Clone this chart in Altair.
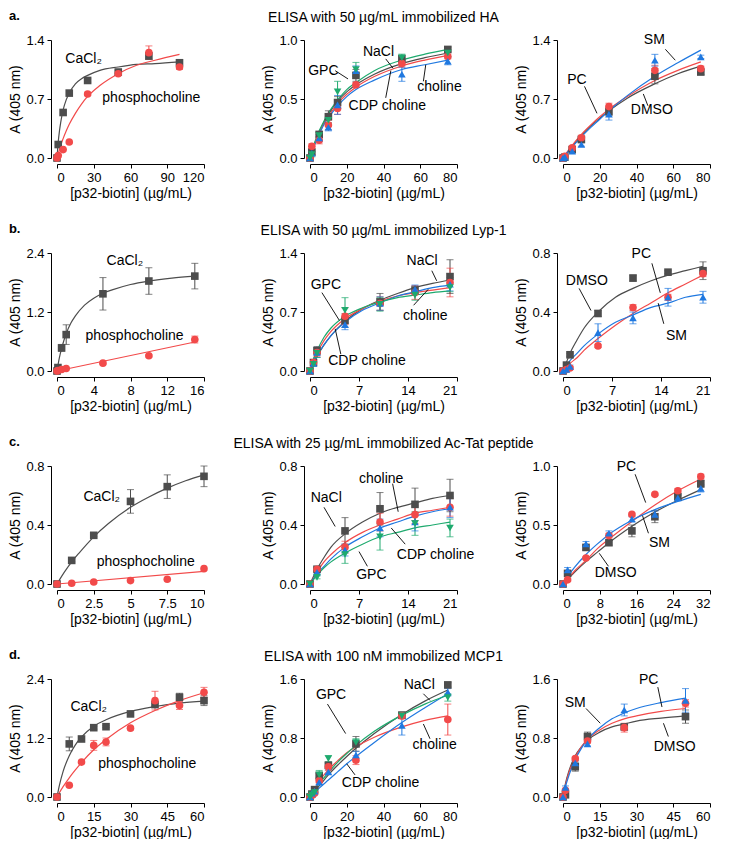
import altair as alt
import pandas as pd

FONT = "Liberation Sans"
COLORS = {"gray": "#4d4d4d", "red": "#f24a4a", "blue": "#1f78e0", "green": "#1eaa6e"}
SHAPES = {"gray": "square", "red": "circle", "blue": "triangle-up", "green": "triangle-down"}
ORDER = ["gray", "red", "blue", "green"]
XTITLE = "[p32-biotin] (µg/mL)"
YTITLE = "A (405 nm)"

ROW_TITLES = [
    "ELISA with 50 µg/mL immobilized HA",
    "ELISA with 50 µg/mL immobilized Lyp-1",
    "ELISA with 25 µg/mL immobilized Ac-Tat peptide",
    "ELISA with 100 nM immobilized MCP1",
]
ROW_LETTERS = ["a.", "b.", "c.", "d."]

# ---------------- Row a (HA) ----------------
A1_X = [0, 1, 5, 10, 25, 50, 75, 100]
A1_GRAY = [0.0, 0.16, 0.54, 0.77, 0.92, 1.02, 1.21, 1.13]
A1_GRAY_ERR = [0, 0, 0, 0, 0.02, 0.02, 0.04, 0.02]
A1_RED = [0.0, 0.03, 0.10, 0.19, 0.76, 1.00, 1.25, 1.08]
A1_RED_ERR = [0, 0, 0, 0, 0.02, 0.02, 0.08, 0.03]
A1_FIT_X = [0, 1, 2, 3, 5, 7.5, 10, 15, 20, 25, 35, 50, 65, 80, 100]
A1_GRAY_FIT = [0, 0.19, 0.32, 0.42, 0.57, 0.69, 0.77, 0.88, 0.94, 0.98, 1.04, 1.08, 1.11, 1.12, 1.14]
A1_RED_FIT = [0, 0.05, 0.10, 0.15, 0.23, 0.32, 0.40, 0.53, 0.64, 0.73, 0.86, 1.00, 1.10, 1.16, 1.23]
A1_LABELS = [("CaCl₂", 6.8, 1.17), ("phosphocholine", 37, 0.71)]
A1_LEADERS = []

A2_X = [0, 1, 5, 10, 15, 25, 50, 75]
A2_GRAY = [0.0, 0.05, 0.20, 0.35, 0.47, 0.70, 0.84, 0.92]
A2_GRAY_ERR = [0, 0.02, 0.02, 0.05, 0.05, 0.05, 0.03, 0.02]
A2_RED = [0.0, 0.10, 0.15, 0.28, 0.42, 0.62, 0.80, 0.86]
A2_RED_ERR = [0, 0.02, 0.03, 0.04, 0.05, 0.02, 0.03, 0.02]
A2_BLUE = [0.0, 0.04, 0.17, 0.26, 0.45, 0.74, 0.71, 0.82]
A2_BLUE_ERR = [0, 0.02, 0.03, 0.03, 0.08, 0.04, 0.06, 0.03]
A2_GREEN = [0.0, 0.03, 0.19, 0.32, 0.56, 0.75, 0.85, 0.89]
A2_GREEN_ERR = [0, 0.02, 0.03, 0.03, 0.09, 0.06, 0.03, 0.03]
A2_FIT_X = [0, 1, 2.5, 5, 7.5, 10, 15, 20, 25, 35, 50, 62.5, 75]
A2_GRAY_FIT = [0, 0.05, 0.12, 0.22, 0.30, 0.37, 0.48, 0.56, 0.62, 0.71, 0.80, 0.85, 0.89]
A2_RED_FIT = [0, 0.05, 0.12, 0.21, 0.29, 0.35, 0.46, 0.54, 0.60, 0.69, 0.78, 0.83, 0.87]
A2_BLUE_FIT = [0, 0.05, 0.11, 0.20, 0.28, 0.34, 0.44, 0.52, 0.58, 0.66, 0.75, 0.79, 0.83]
A2_GREEN_FIT = [0, 0.05, 0.13, 0.23, 0.31, 0.38, 0.49, 0.58, 0.64, 0.74, 0.83, 0.88, 0.92]
A2_LABELS = [("NaCl", 28.8, 0.90), ("GPC", -1, 0.74), ("choline", 58.4, 0.60), ("CDP choline", 21, 0.44)]
A2_LEADERS = [(41.2, 0.84, 45.2, 0.76), (13.7, 0.74, 20.7, 0.67), (63, 0.79, 61.7, 0.65), (44, 0.74, 41.2, 0.51)]

A3_X = [0, 1, 5, 10, 25, 50, 75]
A3_GRAY = [0.0, 0.01, 0.10, 0.22, 0.55, 0.97, 1.02]
A3_GRAY_ERR = [0, 0.01, 0.02, 0.03, 0.05, 0.09, 0.03]
A3_RED = [0.0, 0.02, 0.12, 0.24, 0.61, 1.04, 1.06]
A3_RED_ERR = [0, 0.01, 0.02, 0.03, 0.04, 0.06, 0.03]
A3_BLUE = [0.0, 0.01, 0.08, 0.16, 0.52, 1.16, 1.20]
A3_BLUE_ERR = [0, 0.01, 0.02, 0.02, 0.07, 0.07, 0.02]
A3_FIT_X = [0, 2.5, 5, 10, 15, 20, 25, 35, 50, 62.5, 75]
A3_GRAY_FIT = [0, 0.07, 0.14, 0.27, 0.38, 0.47, 0.56, 0.71, 0.88, 1.00, 1.09]
A3_RED_FIT = [0, 0.08, 0.15, 0.28, 0.39, 0.49, 0.58, 0.73, 0.92, 1.04, 1.14]
A3_BLUE_FIT = [0, 0.07, 0.13, 0.25, 0.36, 0.46, 0.56, 0.74, 0.97, 1.13, 1.28]
A3_LABELS = [("SM", 44, 1.40), ("PC", 2.3, 0.93), ("DMSO", 36.9, 0.57)]
A3_LEADERS = [(55.7, 1.29, 61.1, 1.16), (11.7, 0.85, 18.5, 0.53), (43.7, 0.76, 46.2, 0.62)]

# ---------------- Row b (Lyp-1) ----------------
B1_X = [0, 0.1, 0.5, 1, 5, 10, 15]
B1_GRAY = [0.0, 0.07, 0.47, 0.74, 1.57, 1.83, 1.93]
B1_GRAY_ERR = [0, 0.02, 0.07, 0.20, 0.33, 0.27, 0.26]
B1_RED = [0.0, 0.01, 0.03, 0.05, 0.16, 0.31, 0.64]
B1_RED_ERR = [0, 0, 0.01, 0.01, 0.02, 0.02, 0.07]
B1_GRAY_FIT_X = [0, 0.25, 0.5, 0.75, 1, 1.5, 2, 3, 4, 5, 6, 8, 10, 12.5, 15]
B1_GRAY_FIT = [0, 0.26, 0.46, 0.62, 0.76, 0.97, 1.12, 1.34, 1.48, 1.58, 1.65, 1.76, 1.83, 1.89, 1.93]
B1_RED_FIT_X = [0, 15]
B1_RED_FIT = [0, 0.59]
B1_LABELS = [("CaCl₂", 5.4, 2.23), ("phosphocholine", 3.1, 0.72)]
B1_LEADERS = []

B2_X = [0, 0.5, 1, 5, 10, 15, 20]
B2_GRAY = [0.0, 0.10, 0.24, 0.60, 0.82, 0.96, 1.12]
B2_GRAY_ERR = [0, 0.02, 0.05, 0.08, 0.10, 0.05, 0.20]
B2_RED = [0.0, 0.10, 0.22, 0.65, 0.80, 0.93, 1.05]
B2_RED_ERR = [0, 0.02, 0.05, 0.10, 0.08, 0.08, 0.17]
B2_BLUE = [0.0, 0.09, 0.22, 0.55, 0.80, 0.97, 1.03]
B2_BLUE_ERR = [0, 0.02, 0.06, 0.06, 0.08, 0.05, 0.08]
B2_GREEN = [0.0, 0.08, 0.21, 0.72, 0.79, 0.90, 0.99]
B2_GREEN_ERR = [0, 0.02, 0.05, 0.15, 0.08, 0.06, 0.05]
B2_FIT_X = [0, 0.5, 1, 2, 3, 5, 7.5, 10, 12.5, 15, 17.5, 20]
B2_GRAY_FIT = [0, 0.09, 0.17, 0.31, 0.42, 0.59, 0.74, 0.84, 0.92, 0.99, 1.04, 1.08]
B2_RED_FIT = [0, 0.11, 0.21, 0.36, 0.47, 0.62, 0.74, 0.83, 0.89, 0.93, 0.96, 0.99]
B2_BLUE_FIT = [0, 0.09, 0.18, 0.31, 0.42, 0.58, 0.72, 0.81, 0.89, 0.94, 0.99, 1.02]
B2_GREEN_FIT = [0, 0.14, 0.24, 0.40, 0.51, 0.65, 0.75, 0.82, 0.87, 0.90, 0.93, 0.95]
B2_LABELS = [("NaCl", 13.8, 1.30), ("GPC", 0.1, 1.02), ("choline", 13.3, 0.65), ("CDP choline", 2.6, 0.12)]
B2_LEADERS = [(17.4, 1.19, 18.1, 1.07), (1.7, 0.93, 4.2, 0.60), (14.8, 0.78, 16.9, 0.97), (4.4, 0.20, 3.6, 0.50)]

B3_X = [0, 0.5, 1, 5, 10, 15, 20]
B3_GRAY = [0.0, 0.04, 0.11, 0.39, 0.63, 0.67, 0.68]
B3_GRAY_ERR = [0, 0.01, 0.01, 0.02, 0.02, 0.01, 0.06]
B3_RED = [0.0, 0.01, 0.02, 0.17, 0.43, 0.50, 0.66]
B3_RED_ERR = [0, 0, 0.01, 0.01, 0.02, 0.02, 0.02]
B3_BLUE = [0.0, 0.01, 0.03, 0.26, 0.36, 0.50, 0.50]
B3_BLUE_ERR = [0, 0, 0.01, 0.06, 0.04, 0.06, 0.04]
B3_FIT_X = [0, 0.5, 1, 2, 3, 5, 7.5, 10, 12.5, 15, 17.5, 20]
B3_GRAY_FIT = [0, 0.06, 0.12, 0.21, 0.29, 0.40, 0.50, 0.56, 0.61, 0.65, 0.68, 0.71]
B3_RED_FIT = [0, 0.02, 0.05, 0.09, 0.14, 0.22, 0.31, 0.39, 0.46, 0.53, 0.59, 0.65]
B3_BLUE_FIT = [0, 0.04, 0.07, 0.12, 0.17, 0.25, 0.33, 0.38, 0.43, 0.46, 0.50, 0.52]
B3_LABELS = [("DMSO", 0.4, 0.61), ("PC", 9.8, 0.79), ("SM", 14.7, 0.24)]
B3_LEADERS = [(2.3, 0.56, 4.0, 0.41), (12.7, 0.73, 13.9, 0.53), (13.6, 0.46, 14.4, 0.32)]

# ---------------- Row c (Ac-Tat) ----------------
C1_X = [0, 1, 2.5, 5, 7.5, 10]
C1_GRAY = [0.0, 0.16, 0.33, 0.56, 0.66, 0.73]
C1_GRAY_ERR = [0, 0.01, 0.01, 0.08, 0.08, 0.07]
C1_RED = [0.0, 0.005, 0.014, 0.023, 0.032, 0.104]
C1_RED_ERR = [0, 0, 0, 0, 0, 0]
C1_GRAY_FIT_X = [0, 0.5, 1, 1.5, 2.5, 3.5, 5, 6.25, 7.5, 8.75, 10]
C1_GRAY_FIT = [0, 0.08, 0.15, 0.21, 0.32, 0.41, 0.52, 0.59, 0.65, 0.70, 0.74]
C1_RED_FIT_X = [0, 10]
C1_RED_FIT = [0, 0.085]
C1_LABELS = [("CaCl₂", 1.8, 0.59), ("phosphocholine", 2.7, 0.15)]
C1_LEADERS = []

C2_X = [0, 1, 5, 10, 15, 20]
C2_GRAY = [0.0, 0.10, 0.36, 0.51, 0.54, 0.60]
C2_GRAY_ERR = [0, 0.01, 0.09, 0.11, 0.11, 0.11]
C2_RED = [0.0, 0.10, 0.25, 0.42, 0.47, 0.52]
C2_RED_ERR = [0, 0.01, 0.04, 0.06, 0.06, 0.06]
C2_BLUE = [0.0, 0.08, 0.23, 0.38, 0.42, 0.52]
C2_BLUE_ERR = [0, 0.01, 0.04, 0.06, 0.06, 0.07]
C2_GREEN = [0.0, 0.045, 0.20, 0.32, 0.41, 0.38]
C2_GREEN_ERR = [0, 0.01, 0.06, 0.09, 0.08, 0.06]
C2_FIT_X = [0, 1, 2, 3, 5, 7.5, 10, 12.5, 15, 17.5, 20]
C2_GRAY_FIT = [0, 0.10, 0.18, 0.25, 0.34, 0.42, 0.48, 0.52, 0.55, 0.58, 0.60]
C2_RED_FIT = [0, 0.08, 0.15, 0.20, 0.28, 0.35, 0.40, 0.44, 0.48, 0.50, 0.52]
C2_BLUE_FIT = [0, 0.07, 0.12, 0.17, 0.25, 0.32, 0.38, 0.42, 0.46, 0.49, 0.51]
C2_GREEN_FIT = [0, 0.06, 0.11, 0.15, 0.21, 0.27, 0.32, 0.35, 0.38, 0.40, 0.42]
C2_LABELS = [("NaCl", 0.1, 0.58), ("choline", 7.0, 0.71), ("CDP choline", 12.4, 0.20), ("GPC", 6.6, 0.06)]
C2_LEADERS = [(2.0, 0.52, 3.6, 0.39), (11.8, 0.68, 12.6, 0.49), (11.6, 0.38, 13.6, 0.27), (7.0, 0.22, 8.2, 0.12)]

C3_X = [0, 1, 5, 10, 15, 20, 25, 30]
C3_GRAY = [0.0, 0.09, 0.31, 0.35, 0.45, 0.57, 0.74, 0.85]
C3_GRAY_ERR = [0, 0.01, 0.02, 0.02, 0.05, 0.05, 0.02, 0.03]
C3_RED = [0.0, 0.035, 0.22, 0.41, 0.59, 0.76, 0.79, 0.91]
C3_RED_ERR = [0, 0.01, 0.01, 0.02, 0.01, 0.01, 0.02, 0.02]
C3_BLUE = [0.0, 0.12, 0.34, 0.43, 0.55, 0.59, 0.73, 0.81]
C3_BLUE_ERR = [0, 0.02, 0.02, 0.02, 0.02, 0.03, 0.02, 0.03]
C3_FIT_X = [0, 1, 2.5, 5, 7.5, 10, 15, 20, 25, 30]
C3_GRAY_FIT = [0, 0.04, 0.10, 0.19, 0.27, 0.35, 0.49, 0.61, 0.71, 0.80]
C3_RED_FIT = [0, 0.04, 0.11, 0.20, 0.30, 0.38, 0.53, 0.67, 0.79, 0.89]
C3_BLUE_FIT = [0, 0.06, 0.14, 0.25, 0.34, 0.42, 0.54, 0.63, 0.70, 0.76]
C3_LABELS = [("PC", 11.7, 0.99), ("SM", 18.7, 0.35), ("DMSO", 6.9, 0.09)]
C3_LEADERS = [(15.7, 0.93, 18.0, 0.69), (17.3, 0.58, 18.6, 0.43), (7.9, 0.26, 9.9, 0.15)]

# ---------------- Row d (MCP1) ----------------
D1_X = [0, 5, 10, 15, 20, 30, 40, 50, 60]
D1_GRAY = [0.0, 1.08, 1.18, 1.41, 1.43, 1.69, 1.88, 2.03, 1.96]
D1_GRAY_ERR = [0, 0.14, 0.03, 0.03, 0.02, 0.05, 0.03, 0.08, 0.10]
D1_RED = [0.0, 0.24, 0.71, 1.05, 1.12, 1.40, 1.96, 1.86, 2.13]
D1_RED_ERR = [0, 0.02, 0.03, 0.10, 0.08, 0.03, 0.19, 0.08, 0.10]
D1_FIT_X = [0, 1, 2.5, 5, 7.5, 10, 15, 20, 30, 40, 50, 60]
D1_GRAY_FIT = [0, 0.24, 0.52, 0.84, 1.06, 1.22, 1.44, 1.57, 1.74, 1.84, 1.91, 1.95]
D1_RED_FIT = [0, 0.09, 0.21, 0.39, 0.55, 0.70, 0.96, 1.17, 1.51, 1.76, 1.96, 2.12]
D1_LABELS = [("CaCl₂", 5.5, 1.84), ("phosphocholine", 16.8, 0.68)]
D1_LEADERS = []

D2_X = [0, 1, 2.5, 5, 10, 25, 50, 75]
D2_GRAY = [0.0, 0.04, 0.10, 0.29, 0.43, 0.72, 1.11, 1.52]
D2_GRAY_ERR = [0, 0.01, 0.02, 0.03, 0.04, 0.10, 0.04, 0.03]
D2_RED = [0.0, 0.02, 0.05, 0.22, 0.41, 0.50, 1.10, 1.05]
D2_RED_ERR = [0, 0.01, 0.01, 0.03, 0.05, 0.06, 0.04, 0.21]
D2_BLUE = [0.0, 0.05, 0.08, 0.20, 0.34, 0.57, 0.97, 1.42]
D2_BLUE_ERR = [0, 0.01, 0.01, 0.03, 0.03, 0.05, 0.13, 0.05]
D2_GREEN = [0.0, 0.03, 0.06, 0.30, 0.52, 0.74, 1.10, 1.35]
D2_GREEN_ERR = [0, 0.01, 0.01, 0.06, 0.04, 0.05, 0.03, 0.05]
D2_FIT_X = [0, 2.5, 5, 10, 15, 20, 25, 35, 50, 62.5, 75]
D2_GRAY_FIT = [0, 0.08, 0.15, 0.30, 0.43, 0.55, 0.66, 0.86, 1.12, 1.30, 1.45]
D2_RED_FIT = [0, 0.11, 0.21, 0.37, 0.49, 0.60, 0.68, 0.81, 0.95, 1.04, 1.10]
D2_BLUE_FIT = [0, 0.06, 0.12, 0.23, 0.34, 0.45, 0.55, 0.74, 1.01, 1.21, 1.40]
D2_GREEN_FIT = [0, 0.09, 0.18, 0.33, 0.47, 0.59, 0.70, 0.89, 1.11, 1.26, 1.38]
D2_LABELS = [("NaCl", 51, 1.52), ("GPC", 3.2, 1.38), ("choline", 55.8, 0.71), ("CDP choline", 17.3, 0.19)]
D2_LEADERS = [(61.7, 1.40, 65.3, 1.31), (9.5, 1.26, 19.4, 0.86), (61.7, 0.99, 65.3, 0.79), (20.0, 0.45, 24.5, 0.30)]

D3_X = [0, 1, 5, 10, 25, 50]
D3_GRAY = [0.0, 0.03, 0.41, 0.82, 0.95, 1.09]
D3_GRAY_ERR = [0, 0.01, 0.06, 0.06, 0.03, 0.09]
D3_RED = [0.0, 0.09, 0.52, 0.76, 0.94, 1.27]
D3_RED_ERR = [0, 0.01, 0.02, 0.03, 0.06, 0.05]
D3_BLUE = [0.0, 0.13, 0.46, 0.72, 1.18, 1.31]
D3_BLUE_ERR = [0, 0.02, 0.03, 0.03, 0.08, 0.16]
D3_FIT_X = [0, 1, 2.5, 5, 7.5, 10, 15, 20, 25, 30, 40, 50]
D3_GRAY_FIT = [0, 0.18, 0.36, 0.56, 0.68, 0.77, 0.88, 0.95, 0.99, 1.03, 1.07, 1.10]
D3_RED_FIT = [0, 0.16, 0.34, 0.54, 0.68, 0.78, 0.91, 1.00, 1.06, 1.10, 1.16, 1.20]
D3_BLUE_FIT = [0, 0.14, 0.30, 0.51, 0.66, 0.78, 0.94, 1.06, 1.14, 1.20, 1.28, 1.34]
D3_LABELS = [("PC", 31, 1.58), ("SM", 0.7, 1.27), ("DMSO", 37, 0.68)]
D3_LEADERS = [(38.7, 1.49, 40.4, 1.22), (9.4, 1.20, 15.2, 1.00), (41.0, 1.00, 43.0, 0.82)]

# axis settings per panel: (x max, x ticks, y max, y ticks)
AXES = {
    "a1": (120, [0, 30, 60, 90, 120], 1.4, [0, 0.7, 1.4]),
    "a2": (80, [0, 20, 40, 60, 80], 1.0, [0, 0.5, 1.0]),
    "a3": (80, [0, 20, 40, 60, 80], 1.4, [0, 0.7, 1.4]),
    "b1": (16, [0, 4, 8, 12, 16], 2.4, [0, 1.2, 2.4]),
    "b2": (21, [0, 7, 14, 21], 1.4, [0, 0.7, 1.4]),
    "b3": (21, [0, 7, 14, 21], 0.8, [0, 0.4, 0.8]),
    "c1": (10, [0, 2.5, 5, 7.5, 10], 0.8, [0, 0.4, 0.8]),
    "c2": (21, [0, 7, 14, 21], 0.8, [0, 0.4, 0.8]),
    "c3": (32, [0, 8, 16, 24, 32], 1.0, [0, 0.5, 1.0]),
    "d1": (60, [0, 15, 30, 45, 60], 2.4, [0, 1.2, 2.4]),
    "d2": (80, [0, 20, 40, 60, 80], 1.6, [0, 0.8, 1.6]),
    "d3": (60, [0, 15, 30, 45, 60], 1.6, [0, 0.8, 1.6]),
}

PANELS = [
    ("a1", A1_X, {"gray": (A1_GRAY, A1_GRAY_ERR), "red": (A1_RED, A1_RED_ERR)},
     {"gray": (A1_FIT_X, A1_GRAY_FIT), "red": (A1_FIT_X, A1_RED_FIT)}, A1_LABELS, A1_LEADERS),
    ("a2", A2_X, {"gray": (A2_GRAY, A2_GRAY_ERR), "red": (A2_RED, A2_RED_ERR),
                  "blue": (A2_BLUE, A2_BLUE_ERR), "green": (A2_GREEN, A2_GREEN_ERR)},
     {"gray": (A2_FIT_X, A2_GRAY_FIT), "red": (A2_FIT_X, A2_RED_FIT),
      "blue": (A2_FIT_X, A2_BLUE_FIT), "green": (A2_FIT_X, A2_GREEN_FIT)}, A2_LABELS, A2_LEADERS),
    ("a3", A3_X, {"gray": (A3_GRAY, A3_GRAY_ERR), "red": (A3_RED, A3_RED_ERR), "blue": (A3_BLUE, A3_BLUE_ERR)},
     {"gray": (A3_FIT_X, A3_GRAY_FIT), "red": (A3_FIT_X, A3_RED_FIT), "blue": (A3_FIT_X, A3_BLUE_FIT)},
     A3_LABELS, A3_LEADERS),
    ("b1", B1_X, {"gray": (B1_GRAY, B1_GRAY_ERR), "red": (B1_RED, B1_RED_ERR)},
     {"gray": (B1_GRAY_FIT_X, B1_GRAY_FIT), "red": (B1_RED_FIT_X, B1_RED_FIT)}, B1_LABELS, B1_LEADERS),
    ("b2", B2_X, {"gray": (B2_GRAY, B2_GRAY_ERR), "red": (B2_RED, B2_RED_ERR),
                  "blue": (B2_BLUE, B2_BLUE_ERR), "green": (B2_GREEN, B2_GREEN_ERR)},
     {"gray": (B2_FIT_X, B2_GRAY_FIT), "red": (B2_FIT_X, B2_RED_FIT),
      "blue": (B2_FIT_X, B2_BLUE_FIT), "green": (B2_FIT_X, B2_GREEN_FIT)}, B2_LABELS, B2_LEADERS),
    ("b3", B3_X, {"gray": (B3_GRAY, B3_GRAY_ERR), "red": (B3_RED, B3_RED_ERR), "blue": (B3_BLUE, B3_BLUE_ERR)},
     {"gray": (B3_FIT_X, B3_GRAY_FIT), "red": (B3_FIT_X, B3_RED_FIT), "blue": (B3_FIT_X, B3_BLUE_FIT)},
     B3_LABELS, B3_LEADERS),
    ("c1", C1_X, {"gray": (C1_GRAY, C1_GRAY_ERR), "red": (C1_RED, C1_RED_ERR)},
     {"gray": (C1_GRAY_FIT_X, C1_GRAY_FIT), "red": (C1_RED_FIT_X, C1_RED_FIT)}, C1_LABELS, C1_LEADERS),
    ("c2", C2_X, {"gray": (C2_GRAY, C2_GRAY_ERR), "red": (C2_RED, C2_RED_ERR),
                  "blue": (C2_BLUE, C2_BLUE_ERR), "green": (C2_GREEN, C2_GREEN_ERR)},
     {"gray": (C2_FIT_X, C2_GRAY_FIT), "red": (C2_FIT_X, C2_RED_FIT),
      "blue": (C2_FIT_X, C2_BLUE_FIT), "green": (C2_FIT_X, C2_GREEN_FIT)}, C2_LABELS, C2_LEADERS),
    ("c3", C3_X, {"gray": (C3_GRAY, C3_GRAY_ERR), "red": (C3_RED, C3_RED_ERR), "blue": (C3_BLUE, C3_BLUE_ERR)},
     {"gray": (C3_FIT_X, C3_GRAY_FIT), "red": (C3_FIT_X, C3_RED_FIT), "blue": (C3_FIT_X, C3_BLUE_FIT)},
     C3_LABELS, C3_LEADERS),
    ("d1", D1_X, {"gray": (D1_GRAY, D1_GRAY_ERR), "red": (D1_RED, D1_RED_ERR)},
     {"gray": (D1_FIT_X, D1_GRAY_FIT), "red": (D1_FIT_X, D1_RED_FIT)}, D1_LABELS, D1_LEADERS),
    ("d2", D2_X, {"gray": (D2_GRAY, D2_GRAY_ERR), "red": (D2_RED, D2_RED_ERR),
                  "blue": (D2_BLUE, D2_BLUE_ERR), "green": (D2_GREEN, D2_GREEN_ERR)},
     {"gray": (D2_FIT_X, D2_GRAY_FIT), "red": (D2_FIT_X, D2_RED_FIT),
      "blue": (D2_FIT_X, D2_BLUE_FIT), "green": (D2_FIT_X, D2_GREEN_FIT)}, D2_LABELS, D2_LEADERS),
    ("d3", D3_X, {"gray": (D3_GRAY, D3_GRAY_ERR), "red": (D3_RED, D3_RED_ERR), "blue": (D3_BLUE, D3_BLUE_ERR)},
     {"gray": (D3_FIT_X, D3_GRAY_FIT), "red": (D3_FIT_X, D3_RED_FIT), "blue": (D3_FIT_X, D3_BLUE_FIT)},
     D3_LABELS, D3_LEADERS),
]

PANEL_W, PANEL_H = 147, 118

color_scale = alt.Scale(domain=ORDER, range=[COLORS[s] for s in ORDER])
shape_scale = alt.Scale(domain=ORDER, range=[SHAPES[s] for s in ORDER])


def build_panel(idx, key, xs, series, fits, labels, leaders):
    xmax, xticks, ymax, yticks = AXES[key]
    X = alt.X("x:Q", scale=alt.Scale(domain=[0, xmax], nice=False, zero=False),
              axis=alt.Axis(values=xticks, labelExpr="toString(datum.value)", title=XTITLE))
    Y = alt.Y("y:Q", scale=alt.Scale(domain=[0, ymax], nice=False, zero=False),
              axis=alt.Axis(values=yticks, labelExpr="format(datum.value, '.1f')", title=YTITLE))
    C = alt.Color("s:N", scale=color_scale, legend=None)

    pts, errs, caps, curves = [], [], [], []
    for o, s in enumerate(ORDER):
        if s not in series:
            continue
        ys, es = series[s]
        for xv, yv, ev in zip(xs, ys, es):
            pts.append({"s": s, "o": o, "x": xv, "y": yv})
            if ev > 0:
                errs.append({"s": s, "o": o, "x": xv, "y": yv - ev, "y2": yv + ev})
                caps.append({"s": s, "o": o, "x": xv, "y": yv - ev})
                caps.append({"s": s, "o": o, "x": xv, "y": yv + ev})
        fx, fy = fits[s]
        for xv, yv in zip(fx, fy):
            curves.append({"s": s, "o": o, "x": xv, "y": yv})

    layers = [
        alt.Chart(pd.DataFrame(curves)).mark_line(strokeWidth=1.2, interpolate="monotone").encode(
            x=X, y=Y, color=C, detail="s:N", order="x:Q"),
    ]
    if errs:
        layers.append(alt.Chart(pd.DataFrame(errs)).mark_rule(strokeWidth=1).encode(
            x=X, y=Y, y2="y2:Q", color=C))
        layers.append(alt.Chart(pd.DataFrame(caps)).mark_tick(orient="horizontal", size=7, thickness=1).encode(
            x=X, y=Y, color=C))
    layers.append(alt.Chart(pd.DataFrame(pts)).mark_point(filled=True, size=58, opacity=1).encode(
        x=X, y=Y, color=C, shape=alt.Shape("s:N", scale=shape_scale, legend=None)))
    if leaders:
        ldf = pd.DataFrame([{"x": a, "y": b, "x2": c, "y2": d} for a, b, c, d in leaders])
        layers.append(alt.Chart(ldf).mark_rule(color="black", strokeWidth=0.9).encode(
            x=X, y=Y, x2="x2:Q", y2="y2:Q"))
    tdf = pd.DataFrame([{"t": t, "x": a, "y": b} for t, a, b in labels])
    layers.append(alt.Chart(tdf).mark_text(align="left", baseline="middle", fontSize=14, font=FONT,
                                           color="black").encode(x=X, y=Y, text="t:N"))

    chart = alt.layer(*layers).properties(width=PANEL_W, height=PANEL_H)
    row, col = divmod(idx, 3)
    if col == 0:
        chart = chart.properties(title=alt.TitleParams(
            ROW_LETTERS[row], anchor="start", frame="bounds", fontWeight="bold", fontSize=13, offset=11))
    elif col == 1:
        chart = chart.properties(title=alt.TitleParams(
            ROW_TITLES[row], anchor="middle", frame="group", fontWeight="normal", fontSize=14, offset=9))
    return chart


panels = [build_panel(i, *p) for i, p in enumerate(PANELS)]

chart = alt.concat(*panels, columns=3, spacing=alt.RowColnumber(row=95, column=106), bounds="flush").properties(
    padding={"left": 0, "top": 2, "right": 0, "bottom": 0}
).configure_view(stroke=None).configure_axis(
    domainColor="black", tickColor="black", labelColor="black", titleColor="black",
    labelFont=FONT, titleFont=FONT, labelFontSize=13, titleFontSize=14, titleFontWeight="normal",
    grid=False, tickSize=4, offset=6, domainWidth=1, tickWidth=1,
).configure_axisY(titlePadding=3, labelPadding=3).configure_axisX(titlePadding=2, labelPadding=3).configure_title(
    font=FONT, color="black"
)

chart.save("out.html", embed_options={"renderer": "svg", "actions": False})
